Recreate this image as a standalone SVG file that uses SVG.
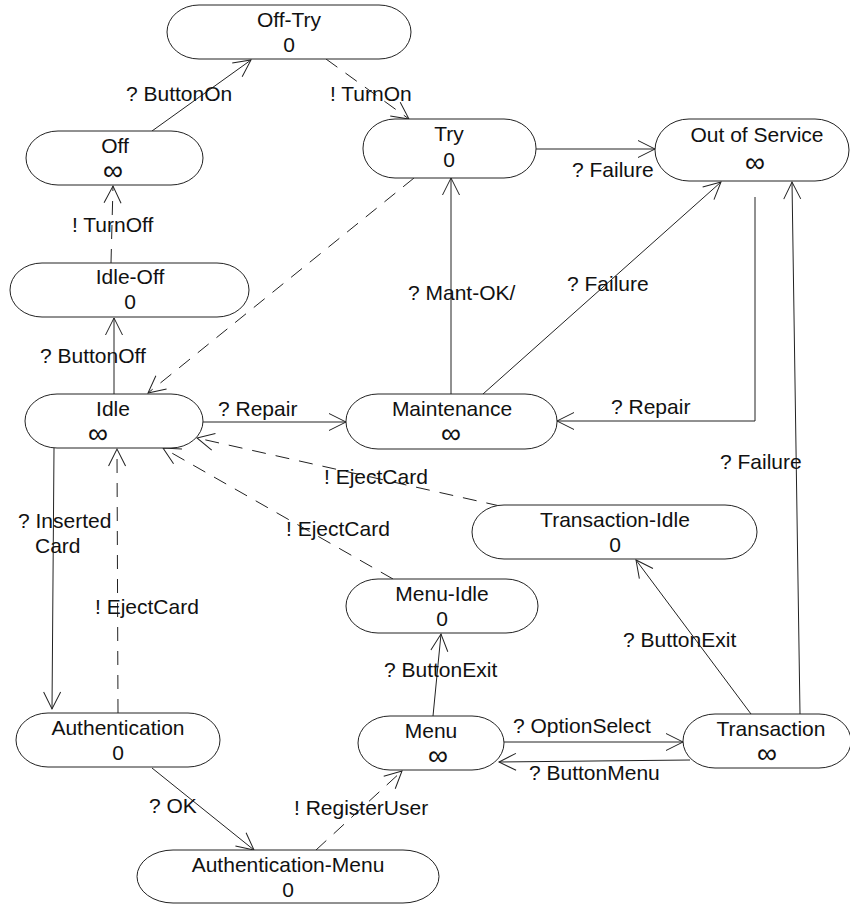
<svg xmlns="http://www.w3.org/2000/svg" width="850" height="904" viewBox="0 0 850 904">
<defs>
<marker id="arr" markerUnits="userSpaceOnUse" orient="auto" refX="0" refY="0" markerWidth="20" markerHeight="20" viewBox="-18 -10 20 20" overflow="visible">
<path d="M-17,-8.5 L0,0 L-17,8.5" fill="none" stroke="#222" stroke-width="1" stroke-dasharray="none"/>
</marker>
<style>
.node rect{fill:#fff;stroke:#222;stroke-width:1}
text{font-family:"Liberation Sans",Arial,sans-serif;font-size:21px;fill:#111}
.c{text-anchor:middle}
.inf{font-size:28px}
.e{fill:none;stroke:#222;stroke-width:1;marker-end:url(#arr)}
.d{stroke-dasharray:14 10}
</style>
</defs>
<rect width="850" height="904" fill="#fff"/>

<g id="connectors">
<path class="e" d="M152,131 L251,60"/>
<path class="e d" d="M326,59 L409,119"/>
<path class="e" d="M536,149 L655,149"/>
<path class="e d" d="M111,263 L113,186"/>
<path class="e" d="M114,394 L114,318"/>
<path class="e d" d="M414,178 L148,393"/>
<path class="e" d="M451,394 L451,178"/>
<path class="e" d="M483,394 L721,182"/>
<path class="e" d="M203,422 L346,422"/>
<path class="e" d="M755,197 L755,421 L557,421"/>
<path class="e" d="M800,714 L792,182"/>
<path class="e d" d="M500,506 L197,438"/>
<path class="e d" d="M393,579 L163,448"/>
<path class="e d" d="M118,713 L117,449"/>
<path class="e" d="M54,448 L52,709"/>
<path class="e" d="M152,768 L254,850"/>
<path class="e d" d="M316,850 L402,771"/>
<path class="e" d="M433,716 L441,634"/>
<path class="e" d="M504,742 L683,742"/>
<path class="e" d="M690,760 L499,762"/>
<path class="e" d="M751,714 L636,560"/>
</g>

<g id="labels">
<text x="126" y="101">? ButtonOn</text>
<text x="330" y="101">! TurnOn</text>
<text x="572" y="177">? Failure</text>
<text x="72" y="232">! TurnOff</text>
<text x="40" y="363">? ButtonOff</text>
<text x="408" y="300">? Mant-OK/</text>
<text x="567" y="291">? Failure</text>
<text x="218" y="416">? Repair</text>
<text x="611" y="414">? Repair</text>
<text x="720" y="469">? Failure</text>
<text x="324" y="484">! EjectCard</text>
<text x="286" y="536">! EjectCard</text>
<text x="95" y="614">! EjectCard</text>
<text x="18" y="528">? Inserted</text>
<text x="35" y="553">Card</text>
<text x="149" y="813">? OK</text>
<text x="294" y="815">! RegisterUser</text>
<text x="384" y="677">? ButtonExit</text>
<text x="513" y="733">? OptionSelect</text>
<text x="529" y="780">? ButtonMenu</text>
<text x="623" y="647">? ButtonExit</text>
</g>

<g id="off-try" class="node"><rect x="167" y="5" width="244" height="54" rx="32" ry="27"/><text class="c" x="289" y="27">Off-Try</text><text class="c" x="289" y="52">0</text></g>
<g id="off" class="node"><rect x="26" y="131" width="177" height="54" rx="32" ry="27"/><text class="c" x="115" y="153">Off</text><text class="c inf" x="113" y="180">∞</text></g>
<g id="try" class="node"><rect x="363" y="119" width="173" height="59" rx="32" ry="29"/><text class="c" x="449" y="141">Try</text><text class="c" x="449" y="167">0</text></g>
<g id="out-of-service" class="node"><rect x="655" y="119" width="194" height="62" rx="34" ry="31"/><text class="c" x="757" y="142">Out of Service</text><text class="c inf" x="755" y="172">∞</text></g>
<g id="idle-off" class="node"><rect x="10" y="263" width="239" height="54" rx="32" ry="27"/><text class="c" x="130" y="284">Idle-Off</text><text class="c" x="130" y="309">0</text></g>
<g id="idle" class="node"><rect x="25" y="394" width="178" height="54" rx="32" ry="27"/><text class="c" x="113" y="416">Idle</text><text class="c inf" x="98" y="443">∞</text></g>
<g id="maintenance" class="node"><rect x="346" y="394" width="211" height="55" rx="32" ry="27"/><text class="c" x="452" y="416">Maintenance</text><text class="c inf" x="451" y="443">∞</text></g>
<g id="transaction-idle" class="node"><rect x="472" y="505" width="285" height="54" rx="32" ry="27"/><text class="c" x="615" y="527">Transaction-Idle</text><text class="c" x="615" y="552">0</text></g>
<g id="menu-idle" class="node"><rect x="346" y="579" width="192" height="54" rx="32" ry="27"/><text class="c" x="442" y="601">Menu-Idle</text><text class="c" x="442" y="626">0</text></g>
<g id="menu" class="node"><rect x="358" y="716" width="146" height="54" rx="32" ry="27"/><text class="c" x="431" y="738">Menu</text><text class="c inf" x="438" y="765">∞</text></g>
<g id="transaction" class="node"><rect x="683" y="714" width="168" height="54" rx="32" ry="27"/><text class="c" x="771" y="736">Transaction</text><text class="c inf" x="767" y="763">∞</text></g>
<g id="authentication" class="node"><rect x="16" y="713" width="204" height="54" rx="32" ry="27"/><text class="c" x="118" y="735">Authentication</text><text class="c" x="118" y="760">0</text></g>
<g id="authentication-menu" class="node"><rect x="137" y="850" width="302" height="53" rx="36" ry="27"/><text class="c" x="288" y="872">Authentication-Menu</text><text class="c" x="288" y="897">0</text></g>
</svg>
